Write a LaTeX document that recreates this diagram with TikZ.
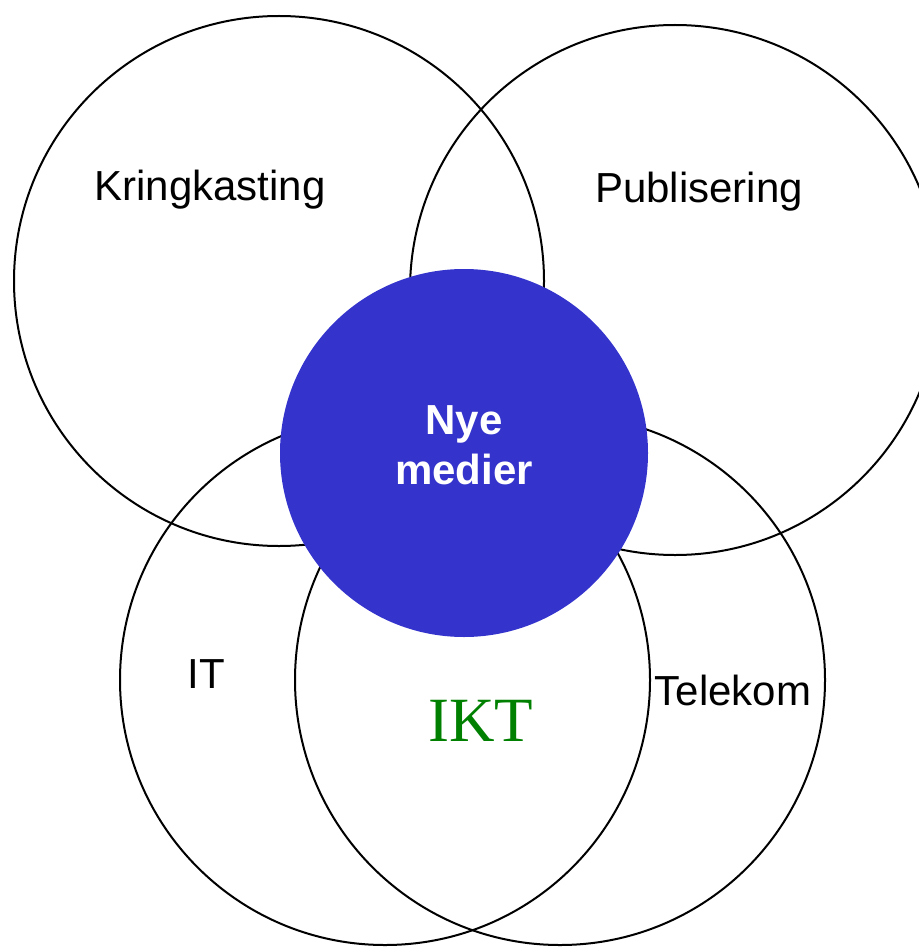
\documentclass[tikz,border=0pt]{standalone}
\usepackage{fontspec}
\setmainfont{Liberation Sans}
\newfontfamily\timesfont{Liberation Serif}
\definecolor{nyeblue}{RGB}{52,52,204}
\definecolor{iktgreen}{RGB}{0,128,0}

\begin{document}
\begin{tikzpicture}[x=.5pt, y=-.5pt,
  ring/.style={circle, draw, line width=1pt, inner sep=0pt, minimum size=265pt},
  lbl/.style={anchor=base, font=\fontsize{21}{25}\selectfont}]
\useasboundingbox (0,0) rectangle (918,947);
%
             \node [ring] at (279,281) (krk) {};
             \node [ring] at (675,290) (pub) {};
             \node [ring] at (385,680) (it) {};
             \node [ring] at (560,680) (tel) {};
             \node [circle, fill=nyeblue, inner sep=0pt, minimum size=184pt] at (464,453) (nye) {};
%
             \node [lbl] at (210,200) (krktxt) {Kringkasting};
             \node [lbl] at (699,202) (pubtxt) {Publisering};
             \node [lbl] at (206,688) (ittxt) {IT};
             \node [lbl] at (733,705) (teltxt) {Telekom};
             \node [anchor=base, text=iktgreen, font=\timesfont\fontsize{31.5}{36}\selectfont] at (481,741) (ikt) {IKT};
             \node [align=center, text=white, font=\bfseries\fontsize{21}{25}\selectfont] at (464,445) (nyetxt) {Nye\\medier};
\end{tikzpicture}
\end{document}
